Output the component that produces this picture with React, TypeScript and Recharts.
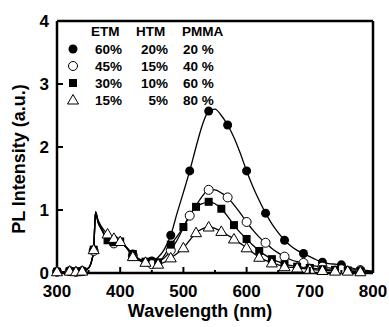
import { LineChart, Line, XAxis, YAxis, ReferenceLine } from 'recharts'

const wavelength = [
  300, 310, 320, 330, 340, 350, 355, 358, 361, 365, 370, 380, 390, 400, 410, 420, 430, 440, 450,
  460, 470, 480, 490, 500, 510, 520, 530, 540, 550, 560, 570, 580, 590, 600, 610, 620, 630, 640,
  650, 660, 670, 680, 690, 700, 710, 720, 730, 740, 750, 760, 770, 780, 790, 800,
]

// 60% ETM / 20% HTM / 20% PMMA
const etm60 = [
  0.02, 0.02, 0.03, 0.02, 0.03, 0.08, 0.2, 0.37, 0.97, 0.82, 0.72, 0.55, 0.53, 0.5, 0.41, 0.3, 0.22, 0.19, 0.19,
  0.25, 0.38, 0.6, 0.95, 1.28, 1.62, 2.0, 2.35, 2.57, 2.6, 2.5, 2.35, 2.15, 1.9, 1.62, 1.37, 1.15, 0.95, 0.78,
  0.64, 0.52, 0.43, 0.36, 0.31, 0.26, 0.21, 0.17, 0.15, 0.14, 0.13, 0.1, 0.07, 0.05, 0.04, 0.03,
]
// 45 / 15 / 40
const etm45 = [
  0.02, 0.02, 0.03, 0.02, 0.03, 0.08, 0.2, 0.35, 0.96, 0.8, 0.7, 0.55, 0.47, 0.49, 0.4, 0.27, 0.2, 0.17, 0.14,
  0.18, 0.24, 0.36, 0.52, 0.72, 0.91, 1.07, 1.22, 1.32, 1.32, 1.27, 1.2, 1.08, 0.95, 0.81, 0.68, 0.57, 0.48, 0.39,
  0.32, 0.26, 0.21, 0.18, 0.16, 0.13, 0.11, 0.1, 0.08, 0.07, 0.06, 0.05, 0.05, 0.04, 0.03, 0.02,
]
// 30 / 10 / 60
const etm30 = [
  0.02, 0.02, 0.03, 0.02, 0.03, 0.08, 0.2, 0.37, 0.96, 0.8, 0.7, 0.52, 0.49, 0.5, 0.4, 0.3, 0.22, 0.18, 0.17,
  0.17, 0.28, 0.45, 0.58, 0.73, 0.92, 1.05, 1.1, 1.13, 1.1, 1.02, 0.9, 0.76, 0.64, 0.54, 0.44, 0.35, 0.28, 0.22,
  0.18, 0.14, 0.12, 0.1, 0.09, 0.08, 0.07, 0.06, 0.05, 0.05, 0.04, 0.04, 0.03, 0.03, 0.02, 0.02,
]
// 15 / 5 / 80
const etm15 = [
  0.02, 0.02, 0.03, 0.02, 0.03, 0.08, 0.2, 0.37, 0.97, 0.84, 0.74, 0.62, 0.55, 0.5, 0.4, 0.26, 0.2, 0.17, 0.16,
  0.14, 0.17, 0.24, 0.31, 0.4, 0.52, 0.64, 0.7, 0.73, 0.71, 0.66, 0.6, 0.54, 0.47, 0.4, 0.32, 0.25, 0.2, 0.16,
  0.13, 0.1, 0.09, 0.08, 0.07, 0.06, 0.05, 0.04, 0.04, 0.03, 0.03, 0.03, 0.02, 0.02, 0.02, 0.02,
]

const circleMarks = [300, 320, 330, 340, 358, 390, 420, 450, 480, 510, 540, 570, 600, 630, 660, 690, 720, 750, 780]
const squareMarks = [
  300, 320, 330, 340, 358, 380, 390, 400, 420, 440, 460, 480, 500, 520, 540, 560, 580, 600, 620, 640, 660, 680,
  700, 720, 740, 760, 780,
]

const xTicks = [300, 350, 400, 450, 500, 550, 600, 650, 700, 750, 800]
const yTicks = [0, 1, 2, 3, 4]

const legendRows = [
  { shape: 'fcircle', etm: '60%', htm: '20%', pmma: '20 %' },
  { shape: 'ocircle', etm: '45%', htm: '15%', pmma: '40 %' },
  { shape: 'fsquare', etm: '30%', htm: '10%', pmma: '60 %' },
  { shape: 'otri', etm: '15%', htm: '5%', pmma: '80 %' },
]

const rows = wavelength.map((wl, i) => ({ wl, a: etm60[i], b: etm45[i], c: etm30[i], d: etm15[i] }))

const FONT = '"Liberation Sans", Arial, sans-serif'

function Marker({ shape, cx, cy }: { shape: string; cx: number; cy: number }) {
  if (shape === 'fcircle') return <circle cx={cx} cy={cy} r={4.5} fill="#000" />
  if (shape === 'ocircle') return <circle cx={cx} cy={cy} r={4.5} fill="#fff" stroke="#000" strokeWidth={1} />
  if (shape === 'fsquare') return <rect x={cx - 4} y={cy - 4} width={8} height={8} fill="#000" />
  return (
    <polygon
      points={`${cx},${cy - 5.5} ${cx - 5.5},${cy + 4} ${cx + 5.5},${cy + 4}`}
      fill="#fff"
      stroke="#000"
      strokeWidth={1}
    />
  )
}

const makeDot = (shape: string, marks: number[]) => (props: any) => {
  const { cx, cy, payload, index } = props
  if (!marks.includes(payload.wl)) return <g key={`d${index}`} />
  return (
    <g key={`d${index}`}>
      <Marker shape={shape} cx={cx} cy={cy} />
    </g>
  )
}

const XTick = ({ x, y, payload }: any) => {
  const v = payload.value
  const major = v % 100 === 0
  return (
    <g>
      {v !== 300 && v !== 800 && (
        <line x1={x} x2={x} y1={y} y2={y - (major ? 6 : 3)} stroke="#000" strokeWidth={2} />
      )}
      {major && (
        <text x={x} y={y + 24} textAnchor="middle" fontFamily={FONT} fontWeight="bold" fontSize={17} fill="#000">
          {v}
        </text>
      )}
    </g>
  )
}

const YTick = ({ x, y, payload }: any) => {
  const v = payload.value
  return (
    <g>
      {v !== 0 && v !== 4 && <line x1={x} x2={x + 6} y1={y} y2={y} stroke="#000" strokeWidth={2} />}
      <text x={x - 8} y={y + 5.5} textAnchor="end" fontFamily={FONT} fontWeight="bold" fontSize={17} fill="#000">
        {v}
      </text>
    </g>
  )
}

const RTick = ({ x, y, payload }: any) => {
  const v = payload.value
  if (v === 0 || v === 4) return <g />
  return <line x1={x} x2={x - 6} y1={y} y2={y} stroke="#000" strokeWidth={2} />
}

function Legend() {
  const txt = { fontFamily: FONT, fontWeight: 'bold' as const, fontSize: 13.5, fill: '#000' }
  return (
    <svg width={389} height={327} style={{ position: 'absolute', left: 0, top: 0, pointerEvents: 'none' }}>
      <text x={91} y={36} {...txt}>ETM</text>
      <text x={136} y={36} {...txt}>HTM</text>
      <text x={182} y={36} {...txt}>PMMA</text>
      {legendRows.map((r, i) => {
        const cy = 49 + i * 17
        return (
          <g key={r.shape}>
            <Marker shape={r.shape} cx={73} cy={cy} />
            <text x={122} y={cy + 5} textAnchor="end" {...txt}>{r.etm}</text>
            <text x={168} y={cy + 5} textAnchor="end" {...txt}>{r.htm}</text>
            <text x={183} y={cy + 5} {...txt}>{r.pmma}</text>
          </g>
        )
      })}
    </svg>
  )
}

export default function App() {
  return (
    <div style={{ position: 'absolute', left: 0, top: 0, width: 389, height: 327, background: '#fff' }}>
      <LineChart width={389} height={327} data={rows} margin={{ top: 21, right: 0, left: 0, bottom: 0 }}>
        <XAxis
          dataKey="wl"
          type="number"
          domain={[300, 800]}
          ticks={xTicks}
          interval={0}
          height={54}
          tickSize={0}
          tickMargin={0}
          tickLine={false}
          tick={<XTick />}
          axisLine={{ stroke: '#000', strokeWidth: 2.5 }}
          label={() => (
            <text x={200} y={317} textAnchor="middle" fontFamily={FONT} fontWeight="bold" fontSize={18} fill="#000">
              Wavelength (nm)
            </text>
          )}
        />
        <YAxis
          yAxisId="left"
          domain={[0, 4]}
          ticks={yTicks}
          interval={0}
          width={57}
          tickSize={0}
          tickMargin={0}
          tickLine={false}
          tick={<YTick />}
          axisLine={{ stroke: '#000', strokeWidth: 2.5 }}
          label={() => (
            <text
              x={19}
              y={159}
              transform="rotate(-90 19 159)"
              textAnchor="middle"
              dominantBaseline="central"
              fontFamily={FONT}
              fontWeight="bold"
              fontSize={18}
              fill="#000"
            >
              PL Intensity (a.u.)
            </text>
          )}
        />
        <YAxis
          yAxisId="right"
          orientation="right"
          domain={[0, 4]}
          ticks={yTicks}
          interval={0}
          width={16}
          tickSize={0}
          tickMargin={0}
          tickLine={false}
          tick={<RTick />}
          axisLine={{ stroke: '#000', strokeWidth: 2.5 }}
        />
        <ReferenceLine yAxisId="left" y={4} stroke="#000" strokeWidth={2.5} />
        <Line yAxisId="left" type="monotone" dataKey="a" stroke="#000" strokeWidth={1.3} isAnimationActive={false} dot={makeDot('fcircle', circleMarks)} />
        <Line yAxisId="left" type="monotone" dataKey="b" stroke="#000" strokeWidth={1.3} isAnimationActive={false} dot={makeDot('ocircle', circleMarks)} />
        <Line yAxisId="left" type="monotone" dataKey="c" stroke="#000" strokeWidth={1.3} isAnimationActive={false} dot={makeDot('fsquare', squareMarks)} />
        <Line yAxisId="left" type="monotone" dataKey="d" stroke="#000" strokeWidth={1.3} isAnimationActive={false} dot={makeDot('otri', squareMarks)} />
      </LineChart>
      <Legend />
    </div>
  )
}
